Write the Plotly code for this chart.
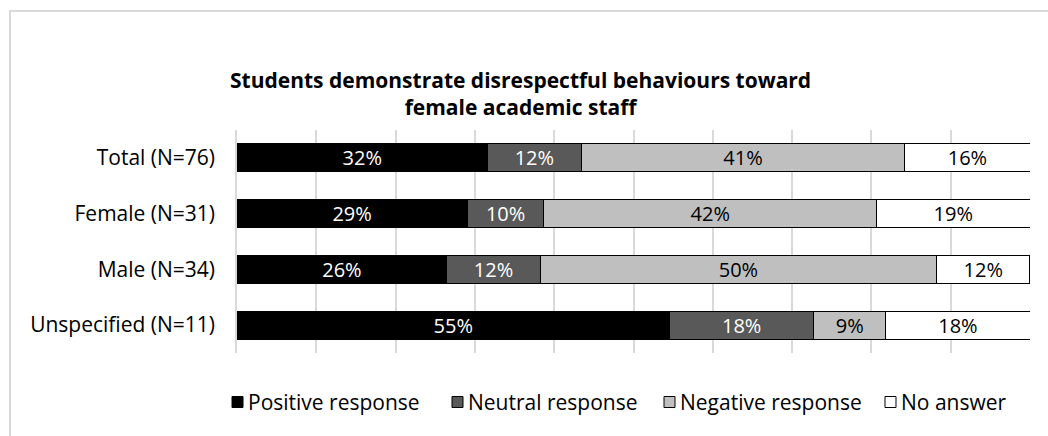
import plotly.graph_objects as go

# Response shares (%) per respondent group
groups = ["Total (N=76)", "Female (N=31)", "Male (N=34)", "Unspecified (N=11)"]
positive = [31.58, 29.03, 26.47, 54.55]
neutral = [11.84, 9.68, 11.76, 18.18]
negative = [40.79, 41.94, 50.00, 9.09]
no_answer = [15.79, 19.35, 11.76, 18.18]

series_names = ["Positive response", "Neutral response", "Negative response", "No answer"]
series_values = [positive, neutral, negative, no_answer]
fill_colors = ["#000000", "#595959", "#bfbfbf", "#ffffff"]
text_colors = ["#ffffff", "#ffffff", "#000000", "#000000"]

FONT = "Open Sans"
FS = 21

fig = go.Figure()
for name, vals, color, tcolor in zip(series_names, series_values, fill_colors, text_colors):
    fig.add_trace(go.Bar(
        y=groups, x=vals, name=name, orientation="h",
        marker=dict(color=color, line=dict(color="#000000", width=1)),
        texttemplate="%{x:.0f}%", textposition="inside",
        insidetextanchor="middle", textangle=0, constraintext="none",
        textfont=dict(color=tcolor, size=20, family=FONT),
        hoverinfo="skip", showlegend=False,
    ))

W, H = 1048, 436
L, R, T, B = 237, 18, 130, 83
pw, ph = W - L - R, H - T - B

def px_x(px):
    return (px - L) / pw

def px_y(py):
    return (H - B - py) / ph

# Legend row below the plot: a swatch followed by its label
legend_left = [232, 452, 664, 885]
legend_cy = 402
sw = 11
shapes = [dict(
    type="rect", xref="paper", yref="paper",
    x0=px_x(10), x1=px_x(1070), y0=px_y(460), y1=px_y(11),
    line=dict(color="#d9d9d9", width=2), fillcolor="rgba(0,0,0,0)",
    layer="below",
)]
annotations = [dict(
    text="<b>Students demonstrate disrespectful behaviours toward<br>female academic staff</b>",
    xref="paper", yref="paper", x=px_x(520), y=px_y(93),
    xanchor="center", yanchor="middle", showarrow=False,
    font=dict(size=FS, family=FONT, color="#000000"),
)]
for name, color, lx in zip(series_names, fill_colors, legend_left):
    shapes.append(dict(
        type="rect", xref="paper", yref="paper",
        x0=px_x(lx), x1=px_x(lx + sw),
        y0=px_y(legend_cy + sw / 2), y1=px_y(legend_cy - sw / 2),
        fillcolor=color, line=dict(color="#000000", width=1),
    ))
    annotations.append(dict(
        text=name, xref="paper", yref="paper",
        x=px_x(lx + sw + 3), y=px_y(legend_cy),
        xanchor="left", yanchor="middle", showarrow=False,
        font=dict(size=FS, family=FONT, color="#000000"),
    ))

fig.update_layout(
    width=W, height=H,
    margin=dict(l=L, r=R, t=T, b=B, pad=0),
    barmode="stack", bargap=0.5,
    plot_bgcolor="#ffffff", paper_bgcolor="#ffffff",
    font=dict(family=FONT, size=FS, color="#000000"),
    showlegend=False,
    xaxis=dict(
        range=[0, 100], showticklabels=False, ticks="",
        showgrid=True, gridcolor="#d9d9d9", gridwidth=1.5,
        dtick=10, zeroline=False, showline=False, fixedrange=True,
    ),
    yaxis=dict(
        categoryorder="array", categoryarray=groups[::-1],
        showgrid=False, ticks="", showline=True, linecolor="#d9d9d9",
        linewidth=1.5, ticklabelstandoff=16,
        tickfont=dict(size=FS, family=FONT),
    ),
    shapes=shapes,
    annotations=annotations,
)

fig.write_html("out.html")
